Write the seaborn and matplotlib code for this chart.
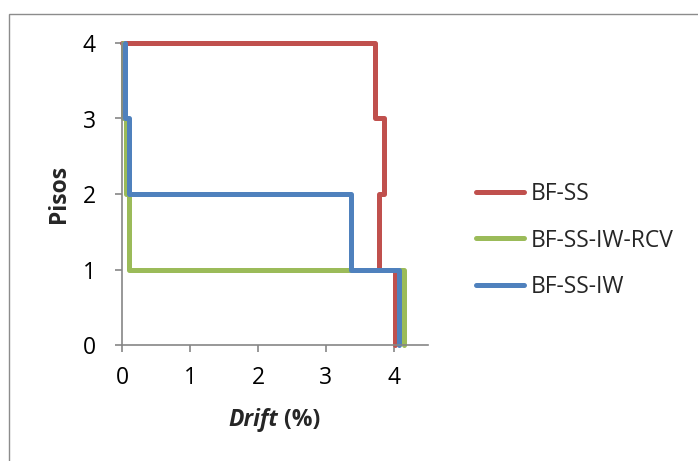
import matplotlib
matplotlib.use("Agg")
import matplotlib.pyplot as plt
import seaborn as sns
import pandas as pd
from matplotlib.patches import Rectangle

# Storey drift profiles (drift %, floor level)
floors = [0, 1, 1, 2, 2, 3, 3, 4, 4]
drift_bf_ss = [4.02, 4.02, 3.78, 3.78, 3.85, 3.85, 3.72, 3.72, 0.0]
drift_bf_ss_iw_rcv = [4.15, 4.15, 0.11, 0.11, 0.06, 0.06, 0.02, 0.02]
drift_bf_ss_iw = [4.08, 4.08, 3.37, 3.37, 0.10, 0.10, 0.04, 0.04]
series_names = ["BF-SS", "BF-SS-IW-RCV", "BF-SS-IW"]
x_ticks = [0, 1, 2, 3, 4]
y_ticks = [0, 1, 2, 3, 4]

frames = []
for name, xs in zip(series_names, [drift_bf_ss, drift_bf_ss_iw_rcv, drift_bf_ss_iw]):
    frames.append(pd.DataFrame({"drift": xs, "piso": floors[:len(xs)],
                                "serie": name, "order": range(len(xs))}))
df = pd.concat(frames, ignore_index=True)

sns.set_style("white")
FONT = ["Open Sans", "DejaVu Sans"]
plt.rcParams["font.family"] = FONT
FS = 16.5

fig = plt.figure(figsize=(6.98, 4.61), dpi=100)
ax = fig.add_axes([122 / 698, 1 - 345 / 461, (428 - 122) / 698, (345 - 43) / 461])

# chart area frame
fig.patches.append(Rectangle((9 / 698, -0.01), 1.0, 1 - 14 / 461 + 0.01,
                             transform=fig.transFigure, fill=False,
                             edgecolor="#8c8c8c", linewidth=1.0))

palette = {"BF-SS": "#C0504D", "BF-SS-IW-RCV": "#9BBB59", "BF-SS-IW": "#4F81BD"}
sns.lineplot(data=df, x="drift", y="piso", hue="serie", units="serie",
             estimator=None, sort=False, palette=palette, hue_order=series_names,
             linewidth=3.6, ax=ax, clip_on=False)

ax.set_xlim(0, 4.5)
ax.set_ylim(0, 4)
ax.set_xticks(x_ticks)
ax.set_yticks(y_ticks)
for s in ["top", "right"]:
    ax.spines[s].set_visible(False)
for s in ["left", "bottom"]:
    ax.spines[s].set_color("#868686")
    ax.spines[s].set_linewidth(1.2)
ax.tick_params(axis="both", direction="out", length=5, width=1.2, color="#868686",
               labelsize=FS, labelcolor="black", bottom=True, left=True)
ax.tick_params(axis="x", pad=10)
ax.tick_params(axis="y", pad=14)

ax.set_ylabel("Pisos", fontsize=FS, fontweight="bold", labelpad=8)
ax.set_xlabel("")

# x-axis title: italic "Drift" followed by upright "(%)"
t_drift = ax.text(0.511, -0.248, "Drift", transform=ax.transAxes, ha="right",
                  va="center", fontsize=FS, fontweight="bold", fontstyle="italic")
ax.annotate(" (%)", xy=(1, 0), xycoords=t_drift, ha="left", va="bottom",
            fontsize=FS, fontweight="bold")

handles, labels = ax.get_legend_handles_labels()
leg = ax.legend(handles, labels, loc="center left", bbox_to_anchor=(1.127, 0.346),
                frameon=False, fontsize=FS, handlelength=2.1, handletextpad=0.3,
                labelspacing=1.0, borderaxespad=0)
for line in leg.get_lines():
    line.set_linewidth(3.6)
    line.set_solid_capstyle("round")

fig.savefig("out.png", dpi=100)
